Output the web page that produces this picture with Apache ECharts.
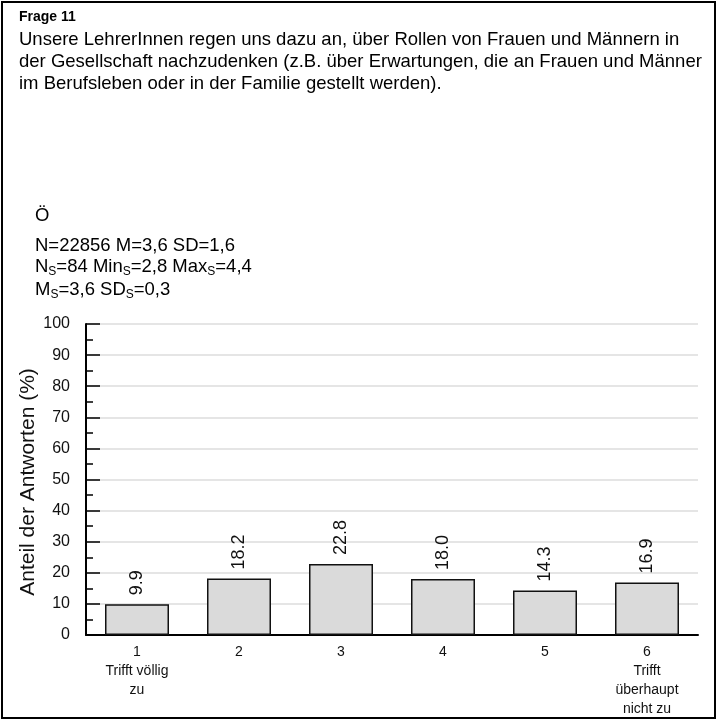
<!DOCTYPE html>
<html><head><meta charset="utf-8">
<script src="https://cdn.jsdelivr.net/npm/echarts@6/dist/echarts.min.js"></script>
<style>html,body{margin:0;padding:0;background:#fff}#c{width:718px;height:719px}</style>
</head><body><div id="c"></div>
<script>
var categories = ['1', '2', '3', '4', '5', '6'];
var categoryNotes = ['Trifft völlig\nzu', '', '', '', '', 'Trifft\nüberhaupt\nnicht zu'];
var values = [9.9, 18.2, 22.8, 18.0, 14.3, 16.9];
var yTicks = [0, 10, 20, 30, 40, 50, 60, 70, 80, 90, 100];
var titleText = 'Frage 11';
var questionLines = [
  'Unsere LehrerInnen regen uns dazu an, über Rollen von Frauen und Männern in',
  'der Gesellschaft nachzudenken (z.B. über Erwartungen, die an Frauen und Männer',
  'im Berufsleben oder in der Familie gestellt werden).'
];
var groupLabel = 'Ö';
var statsLine1 = 'N=22856 M=3,6 SD=1,6';
var statsLine2 = '{n|N}{s|S}{n|=84 Min}{s|S}{n|=2,8 Max}{s|S}{n|=4,4}';
var statsLine3 = '{n|M}{s|S}{n|=3,6 SD}{s|S}{n|=0,3}';
var yAxisName = 'Anteil der Antworten (%)';

var FONT = '"Liberation Sans", Arial, Helvetica, sans-serif';
var chart = echarts.init(document.getElementById('c'));
var rich = {
  n: {fontSize: 18.5, fontFamily: FONT, color: '#111', lineHeight: 22},
  s: {fontSize: 12, fontFamily: FONT, color: '#111', lineHeight: 22, verticalAlign: 'bottom'}
};
chart.setOption({
  animation: false,
  backgroundColor: '#fff',
  textStyle: {fontFamily: FONT},
  graphic: [
    {type: 'rect', shape: {x: 2, y: 2, width: 713, height: 716}, style: {fill: 'none', stroke: '#000', lineWidth: 2}, silent: true},
    {type: 'text', left: 19, top: 10, style: {text: titleText, font: 'bold 14px ' + FONT, fill: '#000'}},
    {type: 'text', left: 19, top: 29, style: {text: questionLines.join('\n'), font: '18.5px ' + FONT, lineHeight: 22, fill: '#000'}},
    {type: 'text', left: 35, top: 206, style: {text: groupLabel, font: '18.5px ' + FONT, fill: '#000'}},
    {type: 'text', left: 35, top: 236, style: {text: statsLine1, font: '18.5px ' + FONT, fill: '#000'}},
    {type: 'text', left: 35, top: 257, style: {text: statsLine2, rich: rich}},
    {type: 'text', left: 35, top: 280, style: {text: statsLine3, rich: rich}},
    {type: 'text', x: 28, y: 482, rotation: Math.PI / 2,
      style: {text: yAxisName, font: '21px ' + FONT, fill: '#111', align: 'center', verticalAlign: 'middle'}}
  ],
  grid: {left: 86, right: 20, top: 324, bottom: 78, containLabel: false},
  xAxis: {
    type: 'category',
    data: categories,
    boundaryGap: true,
    axisLine: {lineStyle: {color: '#000', width: 2}},
    axisTick: {inside: true, length: 15, interval: 0, lineStyle: {color: '#000', width: 1.5}},
    axisLabel: {
      interval: 0, margin: 8, fontSize: 14, lineHeight: 19, color: '#111', fontFamily: FONT,
      formatter: function (v, i) { return categoryNotes[i] ? v + '\n' + categoryNotes[i] : v; }
    },
    splitLine: {show: false}
  },
  yAxis: {
    type: 'value',
    min: yTicks[0], max: yTicks[yTicks.length - 1], interval: 10,
    axisLine: {show: true, lineStyle: {color: '#000', width: 2}},
    axisTick: {show: true, inside: true, length: 14, lineStyle: {color: '#000', width: 1.5}},
    minorTick: {show: true, splitNumber: 2, length: 7, lineStyle: {color: '#000', width: 1.5}},
    axisLabel: {margin: 16, fontSize: 16, color: '#111', fontFamily: FONT},
    splitLine: {show: true, lineStyle: {color: '#dcdcdc', width: 1.5}}
  },
  series: [{
    type: 'bar',
    data: values,
    barWidth: 64,
    itemStyle: {color: '#dadada', borderColor: '#111', borderWidth: 1.5},
    label: {
      show: true, position: 'top', rotate: 90, align: 'left', verticalAlign: 'middle',
      distance: 9, fontSize: 18, color: '#111', fontFamily: FONT,
      formatter: function (p) { return p.value.toFixed(1); }
    }
  }]
});
</script></body></html>
